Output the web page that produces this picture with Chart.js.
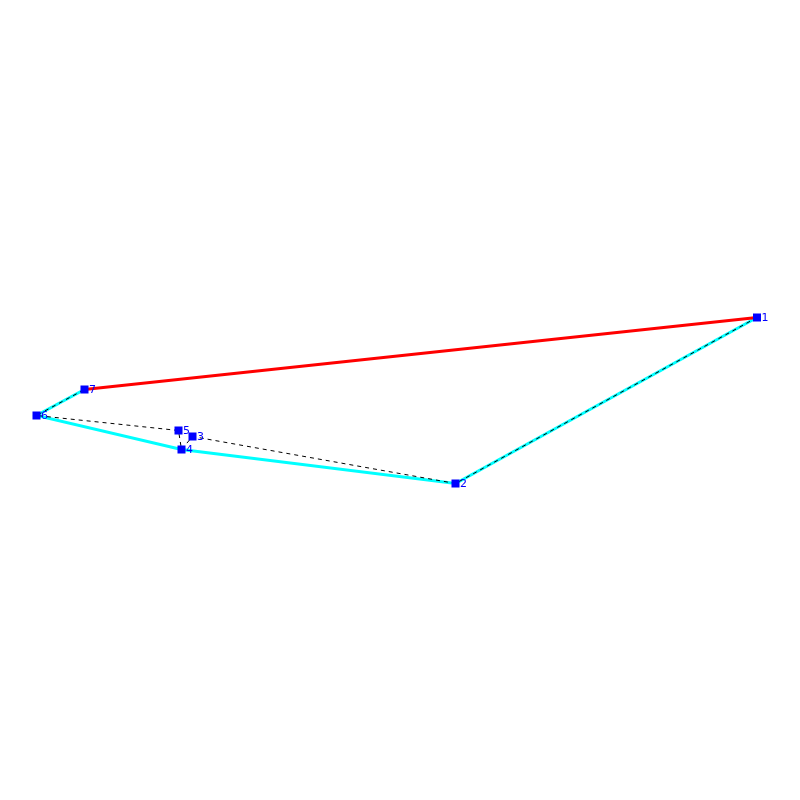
<!DOCTYPE html>
<html>
<head>
<meta charset="utf-8">
<style>html,body{margin:0;padding:0;background:#fff}canvas{display:block}</style>
<script src="https://cdn.jsdelivr.net/npm/chart.js@4"></script>
</head>
<body>
<div style="width:800px;height:800px"><canvas id="c" width="800" height="800"></canvas></div>
<script>
const nodeLabels = ["1","2","3","4","5","6","7"];
const nodeX = [757,455.5,192.5,181.5,178.5,36.5,84.5];
const nodeY = [317.5,483.5,436.5,449.5,430.5,415.5,389.5];
const cyanOrder = [0,1,3,5,6];
const redOrder = [6,0];
const dashedOrder = [0,1,2,3,4,5,6];
const pts = idx => idx.map(i => ({x: nodeX[i], y: nodeY[i]}));
const nodeLabelPlugin = {
  id: 'nodeLabels',
  afterDatasetsDraw(chart) {
    const {ctx, scales:{x, y}} = chart;
    ctx.save();
    ctx.fillStyle = '#0000ff';
    ctx.font = '11px "DejaVu Sans"';
    ctx.textAlign = 'left';
    ctx.textBaseline = 'middle';
    nodeLabels.forEach((t, i) => ctx.fillText(t, x.getPixelForValue(nodeX[i]) + 4.5, y.getPixelForValue(nodeY[i]) + 0.5));
    ctx.restore();
  }
};
const line = (data, color, width, dash, order) => ({
  data, borderColor: color, borderWidth: width, borderDash: dash, pointRadius: 0,
  showLine: true, fill: false, tension: 0, order
});
new Chart(document.getElementById('c'), {
  type: 'scatter',
  data: { datasets: [
    line(pts(cyanOrder), '#00ffff', 3, [], 4),
    line(pts(redOrder), '#ff0000', 3, [], 3),
    line(pts(dashedOrder), '#000000', 1, [4,4], 2),
    { data: pts(dashedOrder), showLine: false, pointStyle: 'rect', pointRadius: 5.66, pointHoverRadius: 5.66,
      pointBackgroundColor: '#0000ff', pointBorderWidth: 0, order: 1 }
  ]},
  options: {
    responsive: false, animation: false, devicePixelRatio: 1,
    layout: { padding: 0, autoPadding: false },
    plugins: { legend: {display:false}, tooltip: {enabled:false}, title:{display:false} },
    scales: {
      x: { type:'linear', min:0, max:800, display:false },
      y: { type:'linear', min:0, max:800, reverse:true, display:false }
    }
  },
  plugins: [nodeLabelPlugin]
});
</script>
</body>
</html>
